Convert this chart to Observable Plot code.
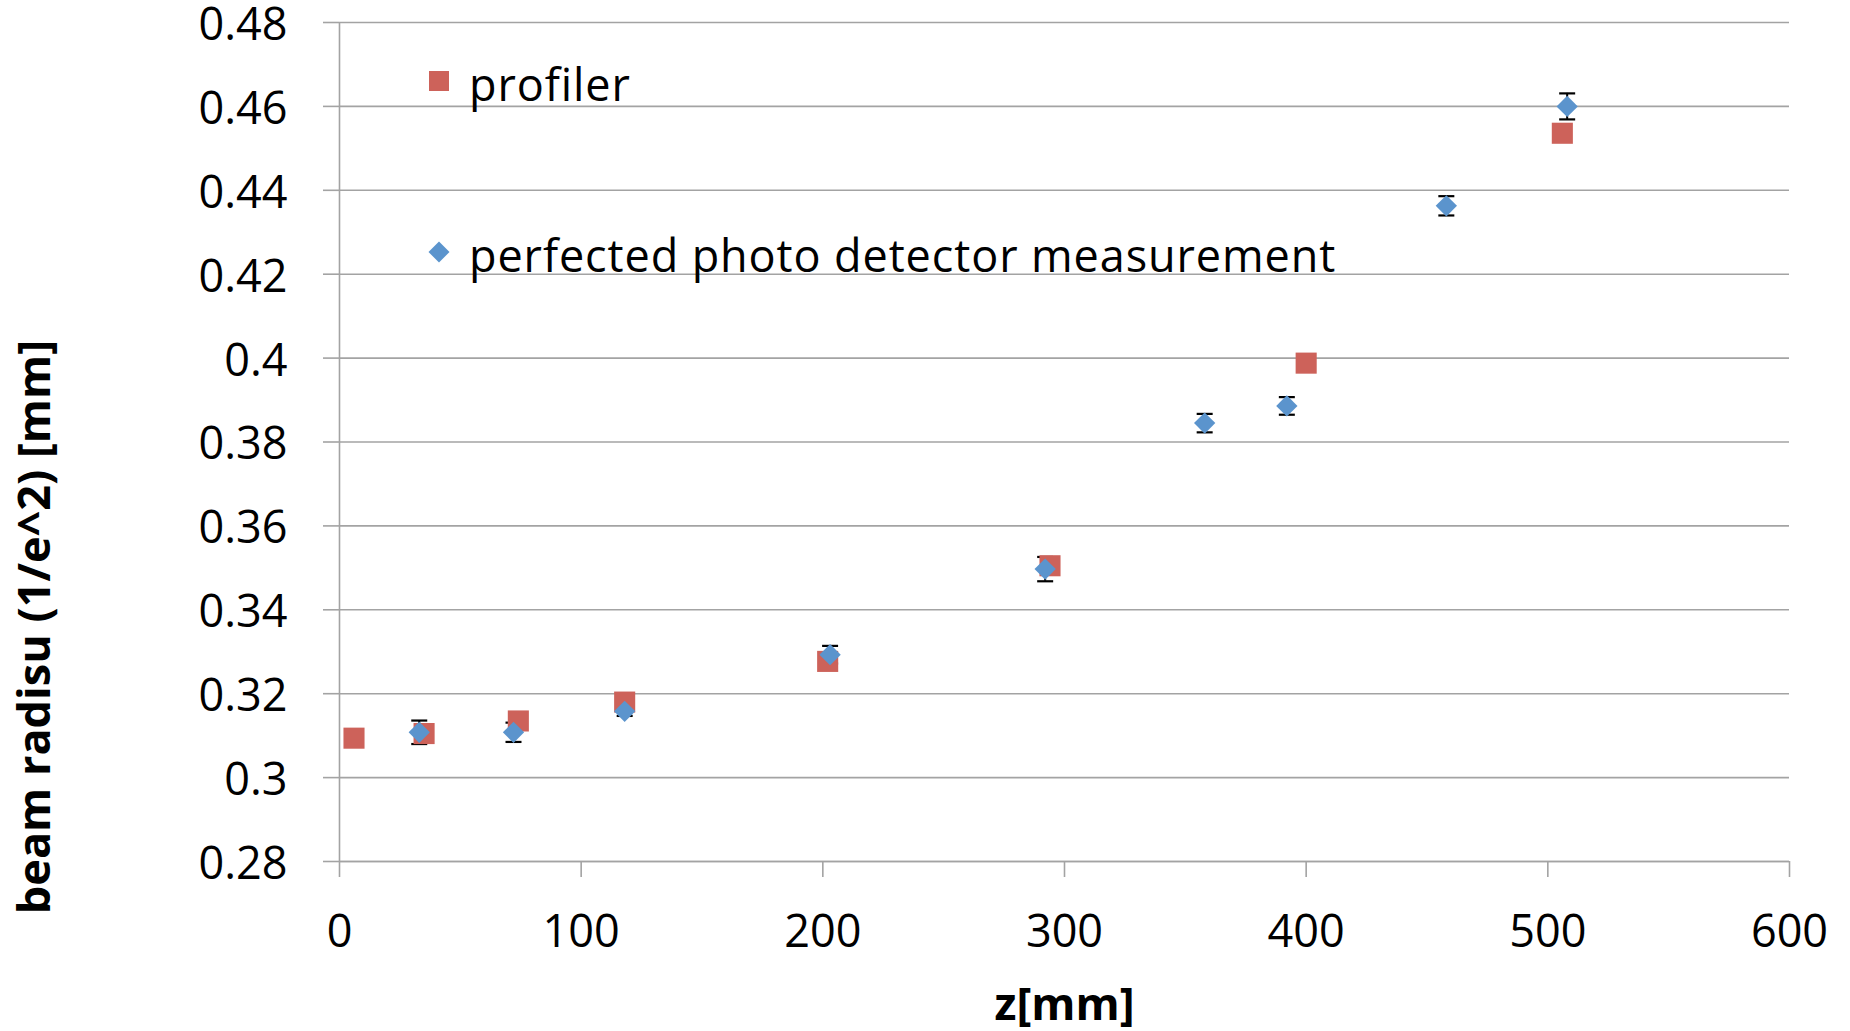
<!DOCTYPE html>
<html>
<head>
<meta charset="utf-8">
<script src="https://cdn.jsdelivr.net/npm/d3@7"></script>
<script src="https://cdn.jsdelivr.net/npm/@observablehq/plot@0.6"></script>
<style>
  html, body { margin: 0; padding: 0; background: #fff; }
  #wrap { position: relative; width: 1850px; height: 1031px; font-family: "Open Sans", sans-serif; }
  #legend { position: absolute; left: 0; top: 0; pointer-events: none; }
</style>
</head>
<body>
<div id="wrap"></div>
<script>
// Beam radius (1/e^2) versus propagation distance z

// Profiler measurements
const zProfiler = [6, 35, 74, 118, 202, 294, 400, 506];
const rProfiler = [0.3094, 0.3105, 0.3135, 0.3180, 0.3277, 0.3505, 0.3988, 0.4536];

// Photo detector measurements with their uncertainty
const zDetector = [33, 72, 118, 203, 292, 358, 392, 458, 508];
const rDetector = [0.3108, 0.3108, 0.3158, 0.3293, 0.3497, 0.3845, 0.3886, 0.4363, 0.4600];
const errDetector = [0.0028, 0.0023, 0.0011, 0.0021, 0.0029, 0.0022, 0.0021, 0.0023, 0.0031];

// Axes
const xTicks = [0, 100, 200, 300, 400, 500, 600];
const yTicks = [0.28, 0.30, 0.32, 0.34, 0.36, 0.38, 0.40, 0.42, 0.44, 0.46, 0.48];
const xTitle = "z[mm]";
const yTitle = "beam radisu (1/e^2) [mm]";

// Legend
const seriesNames = ["profiler", "perfected photo detector measurement"];

const colProfiler = "#cd625a";
const colDetector = "#5b94cd";
const gridColor = "#a3a3a3";

const profiler = zProfiler.map((z, i) => ({z, r: rProfiler[i]}));
const detector = zDetector.map((z, i) => ({z, r: rDetector[i], lo: rDetector[i] - errDetector[i], hi: rDetector[i] + errDetector[i]}));

// short horizontal cap for error bars
const cap = {draw(ctx) { ctx.moveTo(-8, 0); ctx.lineTo(8, 0); }};

const chart = Plot.plot({
  width: 1850,
  height: 1031,
  marginLeft: 339,
  marginRight: 61,
  marginTop: 22,
  marginBottom: 170,
  style: {fontFamily: "Open Sans, sans-serif", background: "#fff", color: "#000", overflow: "visible"},
  x: {domain: [0, 600]},
  y: {domain: [0.28, 0.48]},
  marks: [
    Plot.gridY(yTicks, {stroke: gridColor, strokeOpacity: 1, strokeWidth: 1.6}),
    Plot.ruleX([0], {stroke: gridColor, strokeWidth: 1.6}),
    Plot.ruleY([0.28], {stroke: gridColor, strokeWidth: 1.6}),
    // y axis: tick marks, then labels set slightly below each gridline
    Plot.axisY({ticks: yTicks, tickSize: 16, stroke: gridColor, strokeWidth: 1.6, fill: "none", label: null}),
    Plot.axisY({ticks: yTicks, tickSize: 0, tickPadding: 52, stroke: "none", fill: "#000", fontSize: 45, dy: 3,
      tickFormat: d => String(+d.toFixed(2)), label: null}),
    Plot.axisX({ticks: xTicks, tickSize: 16, tickPadding: 38, stroke: gridColor, strokeWidth: 1.6,
      fill: "#000", fontSize: 45, tickFormat: d => String(d), label: null}),
    // error bars
    Plot.ruleX(detector, {x: "z", y1: "lo", y2: "hi", stroke: "#000", strokeWidth: 2}),
    Plot.dot(detector, {x: "z", y: "lo", symbol: cap, stroke: "#000", strokeWidth: 2.2, fill: "none"}),
    Plot.dot(detector, {x: "z", y: "hi", symbol: cap, stroke: "#000", strokeWidth: 2.2, fill: "none"}),
    // series
    Plot.dot(profiler, {x: "z", y: "r", symbol: "square", r: 11.9, fill: colProfiler, stroke: "none"}),
    Plot.dot(detector, {x: "z", y: "r", symbol: "diamond2", r: 9.6, fill: colDetector, stroke: "none"}),
    // axis titles
    Plot.text([xTitle], {frameAnchor: "bottom", lineAnchor: "middle", dy: 144, fontSize: 45, fontWeight: "bold", fill: "#000"}),
    Plot.text([yTitle], {frameAnchor: "left", textAnchor: "middle", lineAnchor: "middle", dx: -304, dy: 185, rotate: -90, fontSize: 45, fontWeight: "bold", fill: "#000"})
  ]
});

const wrap = document.getElementById("wrap");
wrap.appendChild(chart);

// Legend drawn over the plot area
const leg = d3.select(wrap).append("svg")
  .attr("id", "legend")
  .attr("width", 1850).attr("height", 1031);

const legendItems = [
  {name: seriesNames[0], color: colProfiler, shape: "square", cx: 439, cy: 81},
  {name: seriesNames[1], color: colDetector, shape: "diamond", cx: 439, cy: 252}
];

legendItems.forEach(d => {
  if (d.shape === "square") {
    leg.append("rect").attr("x", d.cx - 10).attr("y", d.cy - 10)
      .attr("width", 20).attr("height", 20).attr("fill", d.color);
  } else {
    const h = 10.5;
    leg.append("path")
      .attr("d", `M${d.cx},${d.cy - h}L${d.cx + h},${d.cy}L${d.cx},${d.cy + h}L${d.cx - h},${d.cy}Z`)
      .attr("fill", d.color);
  }
  leg.append("text")
    .attr("x", d.cx + 30).attr("y", d.cy + 20)
    .attr("font-family", "Open Sans, sans-serif")
    .attr("font-size", 45)
    .attr("letter-spacing", 0.9)
    .attr("fill", "#000")
    .text(d.name);
});
</script>
</body>
</html>
